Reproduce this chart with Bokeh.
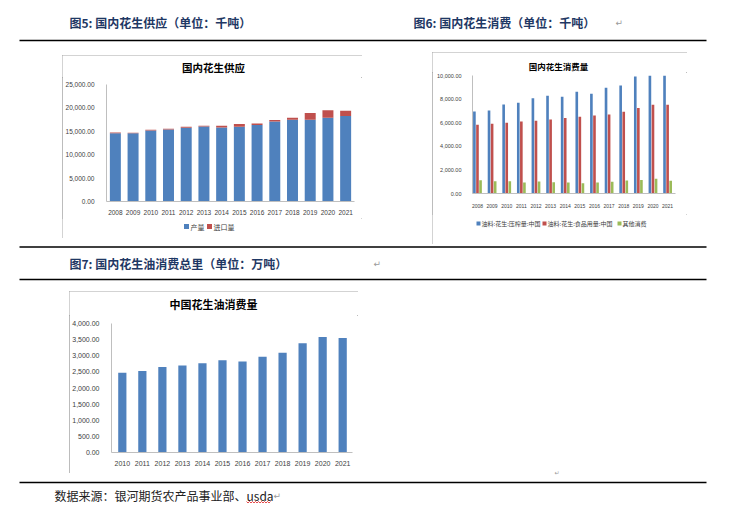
from bokeh.plotting import figure
from bokeh.layouts import column, row
from bokeh.models import (Range1d, FixedTicker, NumeralTickFormatter, Spacer, ColumnDataSource)
from bokeh.transform import dodge
from bokeh.core.properties import value
from bokeh.embed import file_html
from bokeh.resources import INLINE

# ---------------- data ----------------
supply_years = [2008, 2009, 2010, 2011, 2012, 2013, 2014, 2015, 2016, 2017, 2018, 2019, 2020, 2021]
supply_production = [14600, 14600, 15190, 15400, 15760, 16050, 15830, 15970, 16330, 17120, 17480, 17480, 17910, 18270]
supply_import = [150, 100, 140, 140, 210, 140, 360, 580, 360, 290, 430, 1430, 1570, 1140]
supply_ticks = [0, 5000, 10000, 15000, 20000, 25000]

cons_years = [2008, 2009, 2010, 2011, 2012, 2013, 2014, 2015, 2016, 2017, 2018, 2019, 2020, 2021]
cons_crush = [6950, 7040, 7550, 7690, 8080, 8280, 8200, 8620, 8450, 8960, 9150, 9920, 10000, 10000]
cons_food = [5830, 5920, 6000, 6110, 6170, 6280, 6390, 6510, 6620, 6700, 6930, 7240, 7520, 7520]
cons_other = [1130, 1040, 1040, 930, 1010, 960, 930, 870, 930, 990, 1100, 1150, 1240, 1070]
cons_ticks = [0, 2000, 4000, 6000, 8000, 10000]

oil_years = [2010, 2011, 2012, 2013, 2014, 2015, 2016, 2017, 2018, 2019, 2020, 2021]
oil_consumption = [2470, 2530, 2650, 2700, 2766, 2860, 2820, 2970, 3095, 3390, 3580, 3550]
oil_ticks = [0, 500, 1000, 1500, 2000, 2500, 3000, 3500, 4000]

supply_labels = ["产量", "进口量"]
cons_labels = ["油料:花生:压榨量:中国", "油料:花生:食品用量:中国", "其他消费"]

# ---------------- styles ----------------
CJK = "Noto Sans CJK SC"
NUM = "Liberation Sans"
BLUE = "#4F81BD"
RED = "#C0504D"
GREEN = "#9BBB59"
NAVY = "#1F3864"
BOX = {"outline": "1px solid #A6A6A6", "outline-offset": "-1px"}


def strip(w, h):
    p = figure(width=w, height=h, x_range=Range1d(0, w), y_range=Range1d(h, 0),
               toolbar_location=None, output_backend="svg", min_border=0,
               x_axis_type=None, y_axis_type=None, frame_align=False)
    p.outline_line_color = None
    p.grid.visible = False
    return p


def hline(p, x0, x1, y):
    p.segment(x0=[x0], y0=[y], x1=[x1], y1=[y], line_color="black", line_width=1.5)


def head(p, x, y, t):
    p.text(x=[x], y=[y], text=[t], text_font=value(CJK), text_font_size=value("12px"),
           text_font_style="bold", text_color=NAVY, text_baseline="middle", text_align="left")


def para(p, x, y, size="9px"):
    p.text(x=[x], y=[y], text=["↵"], text_font=value("DejaVu Sans"), text_font_size=value(size),
           text_color="#9A9A9A", text_baseline="middle", text_align="left")


def title_strip(w, h, cx, cy, t, size):
    s = strip(w, h)
    s.text(x=[cx], y=[cy], text=[t], text_font=value(CJK), text_font_size=value(size),
           text_font_style="bold", text_color="#000000", text_baseline="middle",
           text_align="center")
    return s


def legend_strip(w, h, y, sq_x, txt_x, labels, colors, size, sq):
    s = strip(w, h)
    s.rect(x=sq_x, y=[y] * len(sq_x), width=sq, height=sq, fill_color=colors, line_color=None)
    s.text(x=txt_x, y=[y] * len(txt_x), text=labels, text_font=value(CJK),
           text_font_size=value(size), text_color="#404040", text_baseline="middle",
           text_align="left")
    return s


def chart(w, h, xr, yr, bl, br, bt, bb, ticks, fsize, xsize, xstand, ystand):
    p = figure(width=w, height=h, x_range=Range1d(*xr), y_range=Range1d(*yr),
               toolbar_location=None, output_backend="svg", frame_align=False,
               min_border_left=bl, min_border_right=br, min_border_top=bt, min_border_bottom=bb)
    p.outline_line_color = None
    p.grid.visible = False
    for ax in (p.xaxis[0], p.yaxis[0]):
        ax.axis_line_color = "#BFBFBF"
        ax.major_tick_line_color = None
        ax.minor_tick_line_color = None
        ax.major_label_text_font = NUM
        ax.major_label_text_color = "#404040"
    p.yaxis[0].major_label_text_font_size = fsize
    p.xaxis[0].major_label_text_font_size = xsize
    p.yaxis[0].ticker = FixedTicker(ticks=ticks)
    p.yaxis[0].formatter = NumeralTickFormatter(format="0,0.00")
    p.yaxis[0].major_label_standoff = ystand
    p.xaxis[0].major_label_standoff = xstand
    return p


# ---------------- chart 1: supply (stacked) ----------------
src1 = ColumnDataSource(dict(year=supply_years, prod=supply_production, imp=supply_import))
t1 = title_strip(300, 22, 151, 12, "国内花生供应", "10.5px")
c1 = chart(300, 141, (2007.5, 2021.5), (0, 25000), 41, 8, 7, 17, supply_ticks,
           "6.5px", "6.5px", 2, 6)
c1.xaxis[0].ticker = FixedTicker(ticks=supply_years)
c1.vbar_stack(["prod", "imp"], x="year", width=0.62, color=[BLUE, RED],
              line_color=None, source=src1)
l1 = legend_strip(300, 20, 8, [124, 147], [128, 151], supply_labels, [BLUE, RED], "7px", 5)
box1 = column(t1, c1, l1, styles=BOX)

# ---------------- chart 2: consumption (grouped) ----------------
src2 = ColumnDataSource(dict(year=cons_years, crush=cons_crush, food=cons_food, other=cons_other))
t2 = title_strip(255, 20, 126, 13, "国内花生消费量", "8.5px")
c2 = chart(255, 142, (2007.66, 2021.54), (0, 10000), 40, 12, 3, 21, cons_ticks,
           "5.5px", "5px", 4, 5)
c2.xaxis[0].ticker = FixedTicker(ticks=cons_years)
c2.vbar(x=dodge("year", -0.21, range=c2.x_range), top="crush", width=0.18,
        color=BLUE, line_color=None, source=src2)
c2.vbar(x=dodge("year", 0.0, range=c2.x_range), top="food", width=0.18,
        color=RED, line_color=None, source=src2)
c2.vbar(x=dodge("year", 0.21, range=c2.x_range), top="other", width=0.18,
        color=GREEN, line_color=None, source=src2)
l2 = legend_strip(255, 30, 9, [46, 112, 187], [49, 115, 190], cons_labels,
                  [BLUE, RED, GREEN], "6px", 4)
box2 = column(t2, c2, l2, styles=BOX)

# ---------------- chart 3: peanut oil consumption ----------------
src3 = ColumnDataSource(dict(year=oil_years, val=oil_consumption))
t3 = title_strip(289, 24, 144, 12, "中国花生油消费量", "11px")
c3 = chart(289, 158, (2009.46, 2021.49), (0, 4000), 38, 6, 8, 21, oil_ticks,
           "7px", "7px", 2, 6)
c3.xaxis[0].ticker = FixedTicker(ticks=oil_years)
c3.vbar(x="year", top="val", width=0.41, color=BLUE, line_color=None, source=src3)
box3 = column(t3, c3, styles=BOX)

# ---------------- page strips ----------------
W = 725
sA = strip(W, 50)
head(sA, 69, 22, "图5: 国内花生供应（单位：千吨）")
head(sA, 413, 22, "图6: 国内花生消费（单位：千吨）")
para(sA, 615, 22)
hline(sA, 19, 706, 40)

sC = strip(W, 43)
hline(sC, 19, 706, 1.5)
head(sC, 69, 18, "图7: 国内花生油消费总里（单位：万吨）")
para(sC, 373, 18)
hline(sC, 19, 706, 34)

sD = strip(W - 358, 190)
para(sD, 196, 184, "6px")

sE = strip(W, 29)
hline(sE, 19, 706, 4)
sE.text(x=[54], y=[17], text=["数据来源：银河期货农产品事业部、usda"], text_font=value(CJK),
        text_font_size=value("12px"), text_color="#222222", text_baseline="middle",
        text_align="left")
para(sE, 273, 17)
wx = [246 + i * 1.5 for i in range(17)]
wy = [23.0 if i % 2 == 0 else 24.5 for i in range(17)]
sE.line(x=wx, y=wy, line_color="#E02020", line_width=0.8)

rowB = row(Spacer(width=62, height=195),
           column(Spacer(width=300, height=5), box1, Spacer(width=300, height=7)),
           Spacer(width=70, height=195),
           column(Spacer(width=255, height=2), box2, Spacer(width=255, height=1)),
           Spacer(width=W - 687, height=195))
rowD = row(Spacer(width=69, height=190),
           column(Spacer(width=289, height=3), box3, Spacer(width=289, height=5)),
           sD)

page = column(sA, rowB, sC, rowD, sE)

open("out.html", "w").write(file_html(page, INLINE))
